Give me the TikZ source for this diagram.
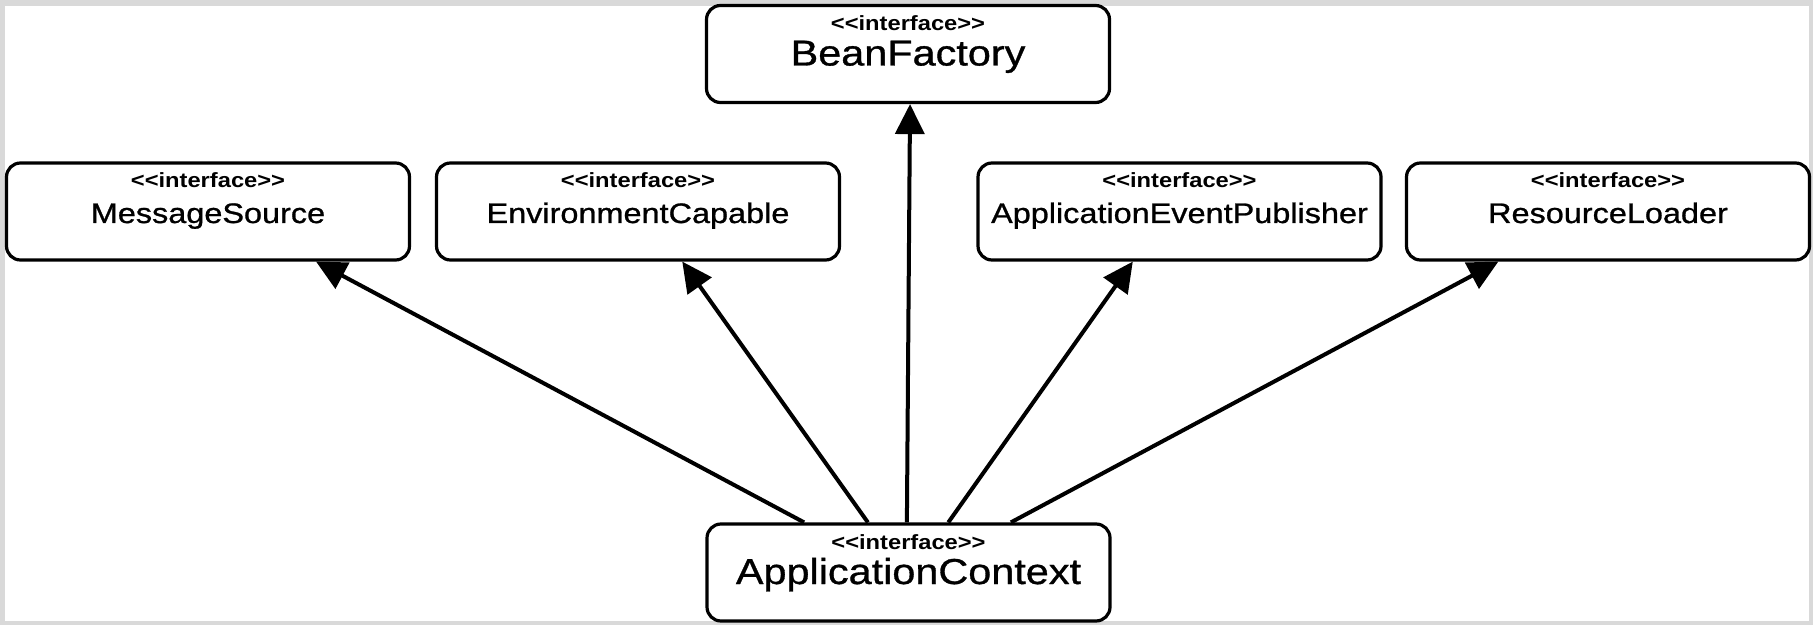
\documentclass[tikz,border=0pt]{standalone}
\usepackage{fontspec}
\setmainfont{Liberation Sans}[FakeStretch=1.15]
\newfontfamily\namefont{Liberation Sans}[FakeStretch=1.15,FakeBold=0.9]
\usetikzlibrary{arrows.meta,calc}
\definecolor{framegray}{HTML}{D9D9D9}
\newcommand\stereotxt{<\kern0pt<interface>\kern0pt>}
\begin{document}
\begin{tikzpicture}[x=0.5pt,y=-0.5pt,
  box/.style={draw, line width=1.6pt, rounded corners=7pt, minimum width=201.5pt,
    minimum height=48.5pt, inner sep=0pt, fill=white},
  stereo/.style={anchor=base, inner sep=0pt, font=\bfseries\fontsize{10.3}{12}\selectfont},
  bigname/.style={anchor=base, inner sep=0pt, font=\namefont\fontsize{18}{20}\selectfont},
  midname/.style={anchor=base, inner sep=0pt, font=\namefont\fontsize{14.1}{16}\selectfont},
  inherit/.style={line width=2pt, -{Triangle[length=15pt,width=14.5pt]}}]
\useasboundingbox (0,0) rectangle (1813,625);
\fill[framegray] (0,0) rectangle (1813,625);
\fill[white] (5,6) rectangle (1809,621);

% boxes
\node[box] (bf)  at (908,54)      {};
\node[box] (ms)  at (208,211.5)   {};
\node[box] (ec)  at (638,211.5)   {};
\node[box] (aep) at (1179.5,211.5){};
\node[box] (rl)  at (1608,211.5)  {};
\node[box] (ac)  at (908.5,572.5) {};

% texts
\node[stereo]  (bfs)  at ($(bf.center)+(0,-23.5)$)  {\stereotxt};
\node[bigname] (bfn)  at ($(bf.center)+(0,11.5)$)   {BeanFactory};
\node[stereo]  (mss)  at ($(ms.center)+(0,-23.5)$)  {\stereotxt};
\node[midname] (msn)  at ($(ms.center)+(0,11.5)$)   {MessageSource};
\node[stereo]  (ecs)  at ($(ec.center)+(0,-23.5)$)  {\stereotxt};
\node[midname] (ecn)  at ($(ec.center)+(0,11.5)$)   {EnvironmentCapable};
\node[stereo]  (aeps) at ($(aep.center)+(0,-23.5)$) {\stereotxt};
\node[midname] (aepn) at ($(aep.center)+(0,11.5)$)  {ApplicationEventPublisher};
\node[stereo]  (rls)  at ($(rl.center)+(0,-23.5)$)  {\stereotxt};
\node[midname] (rln)  at ($(rl.center)+(0,11.5)$)   {ResourceLoader};
\node[stereo]  (acs)  at ($(ac.center)+(0,-23.5)$)  {\stereotxt};
\node[bigname] (acn)  at ($(ac.center)+(0,11.5)$)   {ApplicationContext};

% inheritance arrows
\draw[inherit] ($(ac.north west)!0.243!(ac.north east)$) -- ($(ms.south west)!0.766!(ms.south east)$);
\draw[inherit] ($(ac.north west)!0.400!(ac.north east)$) -- ($(ec.south west)!0.609!(ec.south east)$);
\draw[inherit] ($(ac.north west)!0.496!(ac.north east)$) -- ($(bf.south west)!0.505!(bf.south east)$);
\draw[inherit] ($(ac.north west)!0.598!(ac.north east)$) -- ($(aep.south west)!0.385!(aep.south east)$);
\draw[inherit] ($(ac.north west)!0.752!(ac.north east)$) -- ($(rl.south west)!0.230!(rl.south east)$);
\end{tikzpicture}
\end{document}
